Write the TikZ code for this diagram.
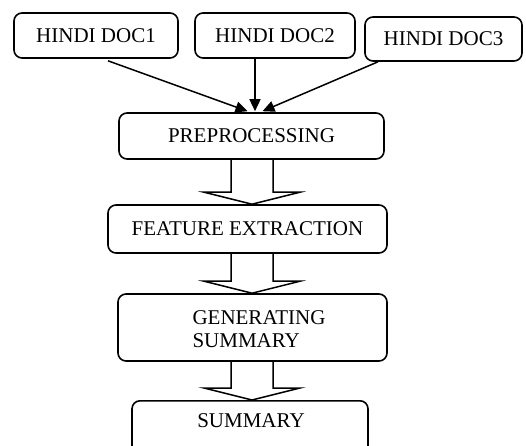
\documentclass[tikz,border=0pt]{standalone}
\usepackage{fontspec}
\setmainfont{Liberation Serif}
\usetikzlibrary{arrows.meta,calc}
\tikzset{
  stagebox/.style={draw, line width=1.6pt, rounded corners=8pt, inner sep=0pt, font=\fontsize{21}{23}\selectfont},
  stagetext/.style={inner sep=0pt, font=\fontsize{21}{23}\selectfont},
  feed/.style={line width=1.5pt, -{Triangle[length=12pt,width=11pt]}},
  fat/.style={line width=1.5pt, line join=miter},
}
% hollow block arrow between two stages
\newcommand{\fatarrow}[2]{%
  \draw[fat] ($(#1.south -| ax)+(-21,0)$) -- ($(#2.north -| ax)+(-21,-12)$)
    -- ($(#2.north -| ax)+(-48,-12)$) -- (#2.north -| ax)
    -- ($(#2.north -| ax)+(48,-12)$) -- ($(#2.north -| ax)+(21,-12)$)
    -- ($(#1.south -| ax)+(21,0)$);}
\begin{document}
\begin{tikzpicture}[x=1pt, y=-1pt]
    \clip (0,0) rectangle (526,445);
    \coordinate (ax) at (252,0);
    % Input documents
    \node[stagebox, minimum width=164pt, minimum height=45pt] (d1) at (96,35.5) {HINDI DOC1};
    \node[stagebox, minimum width=160pt, minimum height=45pt] (d2) at (275,35.5) {HINDI DOC2};
    \node[stagebox, minimum width=157pt, minimum height=44pt] (d3) at (443.5,39) {HINDI DOC3};
    % Stages
    \node[stagebox, minimum width=265pt, minimum height=46pt] (pre) at (251.5,136) {PREPROCESSING};
    \node[stagebox, minimum width=279pt, minimum height=48pt] (feat) at (247.5,229) {FEATURE EXTRACTION};
    \node[stagebox, minimum width=269pt, minimum height=67pt] (gen) at (252.5,327.5) {};
    \node[stagetext, align=left] (gentxt) at (259,329) {GENERATING\\SUMMARY};
    \node[stagebox, minimum width=236pt, minimum height=60pt, anchor=north] (sum) at (250,400) {};
    \node[stagetext] (sumtxt) at (251,421) {SUMMARY};
    % Documents into preprocessing
    \draw[feed] ($(d1.south)+(12,2)$) -- ($(pre.north)+(-4,-1)$);
    \draw[feed] ($(d2.south)+(-20,0)$) -- ($(pre.north)+(3.5,-1)$);
    \draw[feed] ($(d3.south)+(-65.5,0)$) -- ($(pre.north)+(11,-1)$);
    % Block arrows
    \fatarrow{pre}{feat}
    \fatarrow{feat}{gen}
    \fatarrow{gen}{sum}
\end{tikzpicture}
\end{document}
